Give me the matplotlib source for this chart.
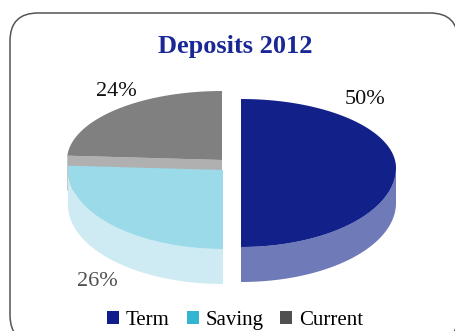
import numpy as np
import matplotlib
matplotlib.use("Agg")
import matplotlib.pyplot as plt
from matplotlib.patches import Polygon, FancyBboxPatch, Patch

# deposit mix, 2012
labels = ["Term", "Saving", "Current"]
shares = [50, 26, 24]

top_colors = ["#12218A", "#9BDAE8", "#808080"]
side_colors = ["#6F7AB8", "#CEEBF3", "#B0B0B0"]
legend_colors = ["#0F1E8C", "#33B5D2", "#505050"]
label_colors = ["#111111", "#505050", "#111111"]

# layout (pixel space, y pointing down)
W, H = 456, 331
RX, RY_FAR, RY_NEAR, DEPTH = 155, 69, 79, 35
vertex = [(241, 168), (223, 170), (222, 160)]      # exploded slice vertices
label_xy = [(365, 100), (97, 281), (116, 91)]
SERIF = "Liberation Serif"


def rim(cx, cy, t):
    ry = np.where(np.sin(t) >= 0, RY_FAR, RY_NEAR)
    return np.column_stack([cx + RX * np.cos(t), cy - ry * np.sin(t)])


fig = plt.figure(figsize=(W / 100, H / 100), dpi=100)
ax = fig.add_axes([0, 0, 1, 1])
ax.set_xlim(0, W)
ax.set_ylim(H, 0)
ax.axis("off")

ax.add_patch(FancyBboxPatch((10, 13), 448, 330, boxstyle="round,pad=0,rounding_size=28",
                            facecolor="white", edgecolor="#555555", linewidth=1.1,
                            clip_on=False, zorder=0))

# angles: start at 12 o'clock, clockwise
fr = np.array(shares) / sum(shares)
ends = np.pi / 2 - 2 * np.pi * np.cumsum(fr)
starts = np.concatenate([[np.pi / 2], ends[:-1]])

# back slice first so the front ones overlap it
for i in [2, 1, 0]:
    cx, cy = vertex[i]
    a0, a1 = starts[i], ends[i]

    # outer wall, only where the rim faces the viewer
    lo, hi = max(a1, -np.pi), min(a0, 0.0)
    if hi > lo:
        top = rim(cx, cy, np.linspace(lo, hi, 80))
        bot = top[::-1] + [0, DEPTH]
        ax.add_patch(Polygon(np.vstack([top, bot]), closed=True,
                             facecolor=side_colors[i], edgecolor="none", zorder=2))

    # radial cut faces: outward normal is a0 + 90deg / a1 - 90deg
    for a, n in [(a0, a0 + np.pi / 2), (a1, a1 - np.pi / 2)]:
        if np.sin(n) < -0.05:
            e = rim(cx, cy, np.array([a]))[0]
            face = [(cx, cy), e, e + [0, DEPTH], (cx, cy + DEPTH)]
            ax.add_patch(Polygon(face, closed=True, facecolor=side_colors[i],
                                 edgecolor="none", zorder=2))

    t = np.linspace(a1, a0, 120)
    ax.add_patch(Polygon(np.vstack([[(cx, cy)], rim(cx, cy, t)]), closed=True,
                         facecolor=top_colors[i], edgecolor="none", zorder=3))

for i, s in enumerate(shares):
    ax.text(*label_xy[i], f"{s}%", ha="center", va="center", fontsize=16,
            family=SERIF, color=label_colors[i], zorder=5)

ax.text(235, 53, "Deposits 2012", ha="center", va="baseline", fontsize=19,
        family=SERIF, fontweight="bold", color="#1A2896")

handles = [Patch(facecolor=c, edgecolor="none") for c in legend_colors]
fig.legend(handles, labels, loc="lower center", bbox_to_anchor=(0.516, -0.054), ncol=3,
           frameon=False, handlelength=0.58, handleheight=0.58, handletextpad=0.34,
           columnspacing=0.8, prop={"family": SERIF, "size": 15})

fig.savefig("out.png", dpi=100)
